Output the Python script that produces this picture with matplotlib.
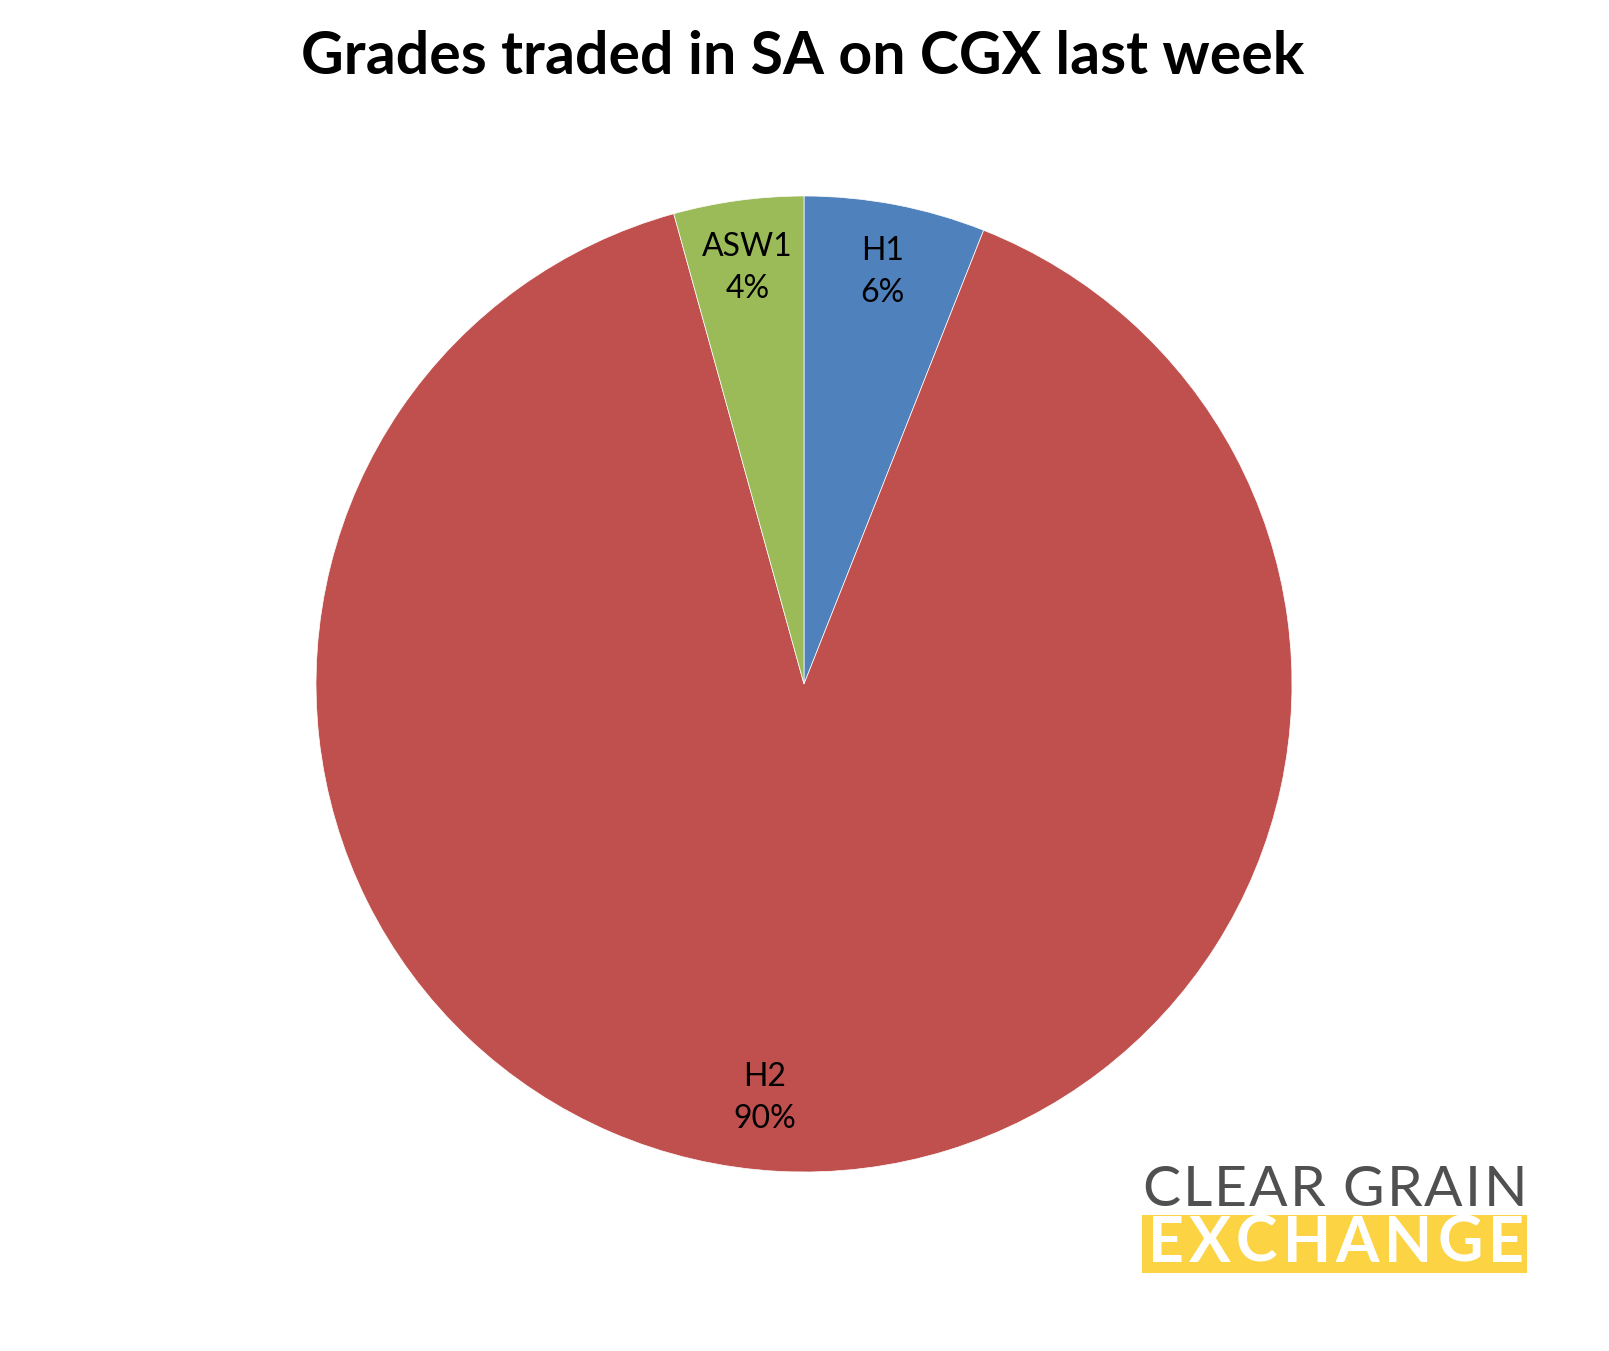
import numpy as np
import matplotlib
matplotlib.use("Agg")
import matplotlib.pyplot as plt
from matplotlib.patches import Rectangle

# Data
grades = ["H1", "H2", "ASW1"]
shares = [6.0, 89.7, 4.3]
colors = ["#4F81BD", "#C0504D", "#9BBB59"]

title = "Grades traded in SA on CGX last week"

W, H = 1609, 1351
fig = plt.figure(figsize=(W / 100, H / 100), dpi=100)
plt.rcParams["font.family"] = ["Lato", "DejaVu Sans"]

# pie axes: centre ~ (804, 684) px, radius ~ 488 px
cx, cy, r = 804, 684, 488
ax = fig.add_axes([(cx - r) / W, (H - cy - r) / H, 2 * r / W, 2 * r / H])

wedges, texts = ax.pie(shares, colors=colors, startangle=90, counterclock=False,
                       radius=1.0, labels=None,
                       wedgeprops=dict(linewidth=0.5, edgecolor="white"))
ax.set_xlim(-1, 1)
ax.set_ylim(-1, 1)
ax.set_aspect("equal")
ax.axis("off")

# label radius per slice (Excel puts them a touch differently)
label_r = [0.86, 0.85, 0.86]
for w, g, s, lr in zip(wedges, grades, shares, label_r):
    ang = np.deg2rad((w.theta1 + w.theta2) / 2)
    x, y = lr * np.cos(ang), lr * np.sin(ang)
    if g == "H2":
        x -= 0.035
    ax.text(x, y, f"{g}\n{s:.0f}%", ha="center", va="center", fontsize=23,
            color="black", linespacing=1.5)

fig.text(803 / W, 1 - 57 / H, title, ha="center", va="center", fontsize=42.5,
         fontweight="bold", color="black")

# logo
renderer = fig.canvas.get_renderer()


def spaced_text(x0, x1, ymid, s, color, weight, size):
    # lay letters out evenly so the word fills x0..x1
    ts, widths = [], []
    for ch in s:
        t = fig.text(0, 1 - ymid / H, ch, ha="left", va="center", fontsize=size,
                     color=color, fontweight=weight)
        widths.append(t.get_window_extent(renderer).width if ch != " " else size * 0.3)
        ts.append(t)
    gap = ((x1 - x0) - sum(widths)) / (len(s) - 1)
    x = x0
    for t, wd in zip(ts, widths):
        t.set_x(x / W)
        x += wd + gap


fig.patches.append(Rectangle((1142 / W, 1 - 1273 / H), (1527 - 1142) / W, (1273 - 1215) / H,
                             transform=fig.transFigure, facecolor="#FCD342",
                             edgecolor="none"))
spaced_text(1142, 1527, 1190, "CLEAR GRAIN", "#505050", "normal", 41)
spaced_text(1148, 1524, 1244, "EXCHANGE", "white", "bold", 45)

fig.savefig("out.png", dpi=100, facecolor="white")
